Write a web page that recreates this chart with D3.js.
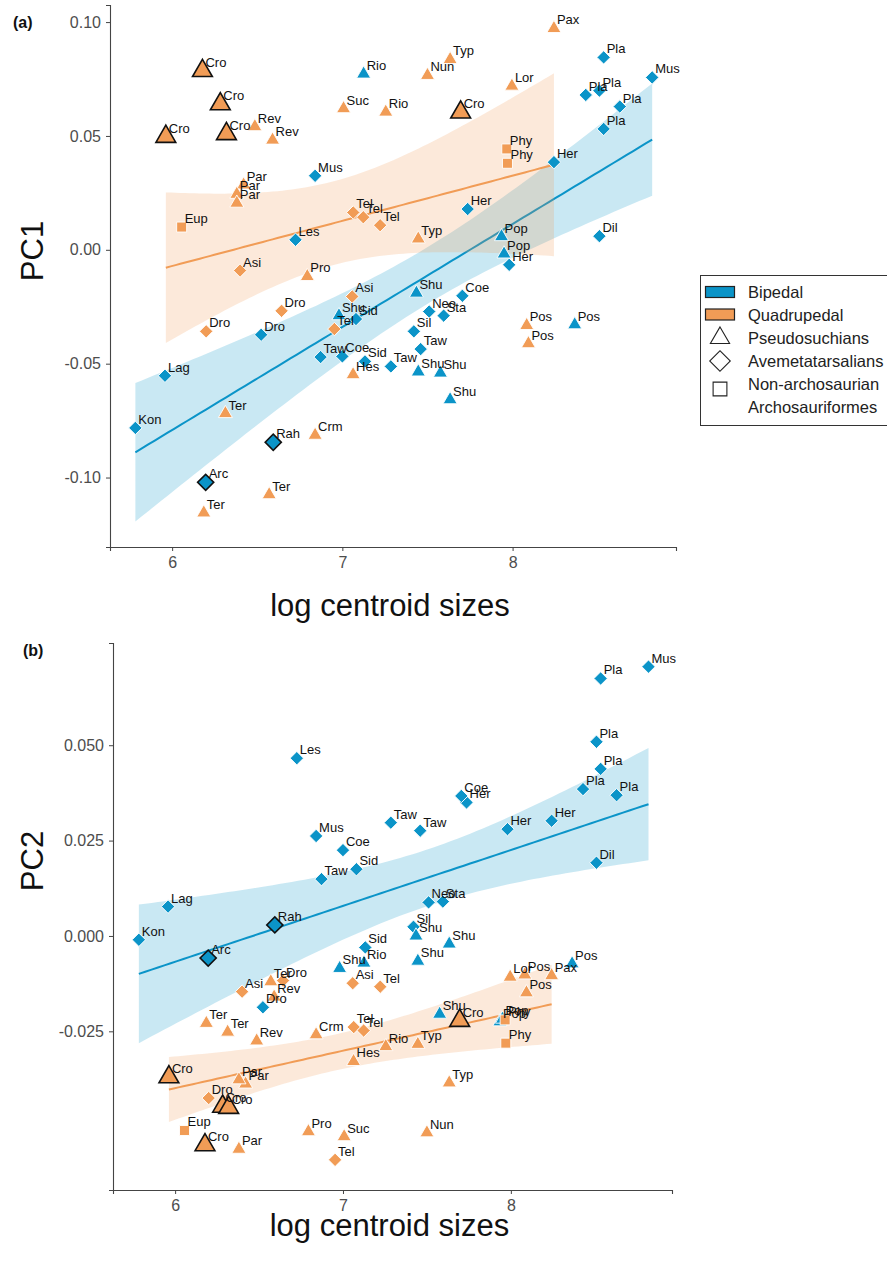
<!DOCTYPE html>
<html>
<head>
<meta charset="utf-8">
<script src="https://cdn.jsdelivr.net/npm/d3@7"></script>
<style>
  body { margin: 0; background: #fff; }
  text { font-family: "Liberation Sans", Arial, sans-serif; }
</style>
</head>
<body>
<script>
// ---- data ----
// B = bipedal, Q = quadrupedal ; P = Pseudosuchians, A = Avemetatarsalians, N = non-archosaurian Archosauriformes
var taxa = ["Pla","Pla","Pla","Pla","Pla","Mus","Her","Her","Her","Dil",
            "Mus","Les","Sid","Sid","Dro","Taw","Taw","Taw","Coe","Coe",
            "Lag","Kon","Rah","Arc","Neo","Sta","Sil",
            "Rio","Pop","Pop","Shu","Shu","Shu","Shu","Shu","Pos",
            "Cro","Cro","Cro","Cro","Cro","Rev","Rev","Suc","Rio","Nun",
            "Typ","Typ","Pax","Lor","Par","Par","Par","Pro","Hes","Ter",
            "Ter","Ter","Crm","Pos","Pos",
            "Tel","Tel","Tel","Tel","Asi","Asi","Dro","Dro",
            "Eup","Phy","Phy"];

var logSize = [8.43,8.51,8.535,8.535,8.63,8.82,7.736,7.98,8.243,8.51,
               6.84,6.725,7.08,7.133,6.523,6.872,7.285,7.46,7.0,7.705,
               5.958,5.784,6.594,6.197,7.51,7.595,7.42,
               7.125,7.935,7.95,6.98,7.435,7.446,7.576,7.633,8.365,
               5.963,6.178,6.283,6.319,7.695,6.486,6.59,7.007,7.255,7.5,
               7.633,7.446,8.243,7.996,6.42,6.38,6.38,6.794,7.063,6.186,
               6.313,6.57,6.84,8.083,8.093,
               7.064,7.123,7.222,6.953,6.399,7.058,6.643,6.2,
               6.056,7.966,7.97];

var pc1 = [0.0680,0.0699,0.0845,0.0531,0.0629,0.0757,0.0179,-0.0066,0.0385,0.0060,
           0.0325,0.0044,-0.0304,-0.0490,-0.0373,-0.0471,-0.0512,-0.0436,-0.0468,-0.0202,
           -0.0553,-0.0782,-0.0845,-0.1021,-0.0271,-0.0289,-0.0358,
           0.0772,0.0058,-0.0018,-0.0289,-0.0190,-0.0536,-0.0541,-0.0658,-0.0329,
           0.0497,0.0786,0.0640,0.0509,0.0604,0.0541,0.0482,0.0620,0.0605,0.0766,
           0.0836,0.0048,0.0972,0.0719,0.0285,0.0244,0.0205,-0.0117,-0.0548,-0.1155,
           -0.0719,-0.1075,-0.0814,-0.0332,-0.0412,
           0.0164,0.0143,0.0108,-0.0348,-0.0091,-0.0205,-0.0268,-0.0358,
           0.0100,0.0443,0.0380];

var pc2 = [0.0385,0.0509,0.0675,0.0438,0.0369,0.0706,0.0350,0.0280,0.0302,0.0192,
           0.0262,0.0466,0.0175,-0.0030,-0.0187,0.0149,0.0297,0.0276,0.0225,0.0367,
           0.0077,-0.0010,0.0029,-0.0058,0.0088,0.0090,0.0024,
           -0.0071,-0.0225,-0.0218,-0.0085,0.0000,-0.0066,-0.0205,-0.0021,-0.0073,
           -0.0370,-0.0548,-0.0447,-0.0450,-0.0222,-0.0275,-0.0160,-0.0526,-0.0290,-0.0516,
           -0.0385,-0.0284,-0.0104,-0.0108,-0.0388,-0.0377,-0.0559,-0.0513,-0.0329,-0.0229,
           -0.0252,-0.0120,-0.0259,-0.0102,-0.0149,
           -0.0239,-0.0248,-0.0133,-0.0587,-0.0146,-0.0124,-0.0117,-0.0425,
           -0.0510,-0.0220,-0.0281];

var locomotion = "BBBBBBBBBBBBBBBBBBBBBBBBBBBBBBBBBBBBQQQQQQQQQQQQQQQQQQQQQQQQQQQQQQQQQQQQ".split("");
var clade = "AAAAAAAAAAAAAAAAAAAAAAAAAAAPPPPPPPPPPPPPPPPPPPPPPPPPPPPPPPPPPAAAAAAAANNN".split("");
var outlined = ["Rah","Arc","Cro"];   // drawn larger with a black border

var xTicks = [6, 7, 8];
var pc1Ticks = [-0.10, -0.05, 0.00, 0.05, 0.10];
var pc2Ticks = [-0.025, 0.000, 0.025, 0.050];

var legendGroups = ["Bipedal", "Quadrupedal"];
var legendShapes = ["Pseudosuchians", "Avemetatarsalians", ["Non-archosaurian", "Archosauriformes"]];

// ---- style ----
var colors = {B: "#0b94c8", Q: "#f19c56"};
var tCrit = 2.032;   // t(0.975, df = 34)

var W = 887, H = 1264;
var svg = d3.select("body").append("svg")
            .attr("width", W)
            .attr("height", H);

var panels = [
  {values: pc1, left: 110, right: 676, top: 5, bottom: 547,
   xDomain: [5.635, 8.96], yDomain: [-0.1305, 0.1075], yTicks: pc1Ticks, digits: 2,
   title: "PC1", titleCY: 251, tag: "(a)", tagX: 13, tagY: 28, xTitleY: 616},
  {values: pc2, left: 113, right: 672, top: 643, bottom: 1190,
   xDomain: [5.63, 8.96], yDomain: [-0.0666, 0.0768], yTicks: pc2Ticks, digits: 3,
   title: "PC2", titleCY: 861, tag: "(b)", tagX: 23, tagY: 656, xTitleY: 1236}
];

function fitBand(xs, ys) {
  var n = xs.length, mx = d3.mean(xs), my = d3.mean(ys);
  var sxx = 0, sxy = 0, sse = 0;
  for (var i = 0; i < n; i++) {
    sxx += (xs[i] - mx) * (xs[i] - mx);
    sxy += (xs[i] - mx) * (ys[i] - my);
  }
  var b = sxy / sxx, a = my - b * mx;
  for (var i = 0; i < n; i++) {
    var r = ys[i] - (a + b * xs[i]);
    sse += r * r;
  }
  var s = Math.sqrt(sse / (n - 2));
  var ext = d3.extent(xs);
  return d3.range(81).map(function(k) {
    var x = ext[0] + (ext[1] - ext[0]) * k / 80;
    var yh = a + b * x;
    var se = s * Math.sqrt(1 / n + (x - mx) * (x - mx) / sxx);
    return {x: x, y: yh, lo: yh - tCrit * se, hi: yh + tCrit * se};
  });
}

function markerPath(cl, big) {
  if (cl === "P") return d3.symbol().type(d3.symbolTriangle).size(big ? 170 : 86)();
  if (cl === "A") return d3.symbol().type(d3.symbolSquare).size(big ? 130 : 90)();
  return d3.symbol().type(d3.symbolSquare).size(big ? 130 : 100)();
}

panels.forEach(function(p) {
  var x = d3.scaleLinear().domain(p.xDomain).range([p.left, p.right]);
  var y = d3.scaleLinear().domain(p.yDomain).range([p.bottom, p.top]);

  var g = svg.append("g");

  // confidence bands + fitted lines
  ["B", "Q"].forEach(function(grp) {
    var idx = d3.range(taxa.length).filter(function(i) { return locomotion[i] === grp; });
    var band = fitBand(idx.map(function(i) { return logSize[i]; }),
                       idx.map(function(i) { return p.values[i]; }));
    g.append("path")
     .datum(band)
     .attr("d", d3.area().x(function(d) { return x(d.x); })
                         .y0(function(d) { return y(d.lo); })
                         .y1(function(d) { return y(d.hi); }))
     .attr("fill", colors[grp])
     .attr("fill-opacity", 0.22);
    g.append("path")
     .datum(band)
     .attr("d", d3.line().x(function(d) { return x(d.x); })
                         .y(function(d) { return y(d.y); }))
     .attr("fill", "none")
     .attr("stroke", colors[grp])
     .attr("stroke-width", 2);
  });

  // points
  var order = d3.range(taxa.length).sort(function(a, b) {
    return (outlined.indexOf(taxa[a]) >= 0) - (outlined.indexOf(taxa[b]) >= 0);
  });
  g.selectAll("path.pt")
   .data(order)
   .enter()
   .append("path")
   .attr("class", "pt")
   .attr("d", function(i) { return markerPath(clade[i], outlined.indexOf(taxa[i]) >= 0); })
   .attr("transform", function(i) {
     return "translate(" + x(logSize[i]) + "," + y(p.values[i]) + ")" +
            (clade[i] === "A" ? " rotate(45)" : "");
   })
   .attr("fill", function(i) { return colors[locomotion[i]]; })
   .attr("stroke", function(i) { return outlined.indexOf(taxa[i]) >= 0 ? "#111" : "#fff"; })
   .attr("stroke-width", function(i) { return outlined.indexOf(taxa[i]) >= 0 ? 1.6 : 0.9; });

  // labels
  g.selectAll("text.lab")
   .data(d3.range(taxa.length))
   .enter()
   .append("text")
   .attr("class", "lab")
   .attr("x", function(i) { return x(logSize[i]) + 3; })
   .attr("y", function(i) { return y(p.values[i]) - 4; })
   .attr("font-size", 13)
   .attr("fill", "#111")
   .text(function(i) { return taxa[i]; });

  // axes
  var xAxis = svg.append("g")
     .attr("transform", "translate(0," + p.bottom + ")")
     .call(d3.axisBottom(x).tickValues(xTicks).tickSizeOuter(0).tickSize(4).tickPadding(6)
             .tickFormat(d3.format("d")));
  var yAxis = svg.append("g")
     .attr("transform", "translate(" + p.left + ",0)")
     .call(d3.axisLeft(y).tickValues(p.yTicks).tickSizeOuter(0).tickSize(4).tickPadding(5)
             .tickFormat(function(d) { return d.toFixed(p.digits); }));
  [xAxis, yAxis].forEach(function(ax) {
    ax.select(".domain").attr("stroke", "#444").attr("stroke-width", 1.1);
    ax.selectAll(".tick line").attr("stroke", "#444");
    ax.selectAll(".tick text").attr("fill", "#4d4d4d").attr("font-size", 16)
      .attr("font-family", "Liberation Sans, Arial, sans-serif");
  });

  // titles
  svg.append("text")
     .attr("x", (p.left + p.right) / 2 - 3)
     .attr("y", p.xTitleY)
     .attr("text-anchor", "middle")
     .attr("font-family", "Lato, sans-serif")
     .attr("font-size", 31)
     .attr("fill", "#111")
     .text("log centroid sizes");
  svg.append("text")
     .attr("transform", "translate(43," + p.titleCY + ") rotate(-90)")
     .attr("text-anchor", "middle")
     .attr("font-family", "Lato, sans-serif")
     .attr("font-size", 31)
     .attr("fill", "#111")
     .text(p.title);
  svg.append("text")
     .attr("x", p.tagX)
     .attr("y", p.tagY)
     .attr("font-weight", "bold")
     .attr("font-size", 16)
     .attr("fill", "#111")
     .text(p.tag);
});

// ---- legend ----
var lg = svg.append("g");
lg.append("rect")
  .attr("x", 700.5).attr("y", 275.5)
  .attr("width", 200).attr("height", 150)
  .attr("fill", "#fff").attr("stroke", "#333").attr("stroke-width", 1);

legendGroups.forEach(function(name, i) {
  var cy = 292 + i * 22.5;
  lg.append("rect")
    .attr("x", 705.5).attr("y", cy - 5.5)
    .attr("width", 29).attr("height", 11)
    .attr("fill", colors[i === 0 ? "B" : "Q"])
    .attr("stroke", "#222").attr("stroke-width", 1.2);
  lg.append("text")
    .attr("x", 748).attr("y", cy + 6)
    .attr("font-family", "Lato, sans-serif").attr("font-size", 16.5)
    .attr("fill", "#222")
    .text(name);
});

var shapeKeys = ["P", "A", "N"];
legendShapes.forEach(function(name, i) {
  var cy = 338 + i * 23;
  var sym = shapeKeys[i] === "P" ? d3.symbol().type(d3.symbolTriangle).size(160)()
          : shapeKeys[i] === "A" ? d3.symbol().type(d3.symbolSquare).size(210)()
          : d3.symbol().type(d3.symbolSquare).size(190)();
  lg.append("path")
    .attr("d", sym)
    .attr("transform", "translate(720," + (shapeKeys[i] === "N" ? cy + 5 : cy) + ")" +
                       (shapeKeys[i] === "A" ? " rotate(45)" : ""))
    .attr("fill", "none").attr("stroke", "#222").attr("stroke-width", 1.1);
  var lines = Array.isArray(name) ? name : [name];
  lines.forEach(function(t, j) {
    lg.append("text")
      .attr("x", 748).attr("y", cy + 6 + j * 22.5)
      .attr("font-family", "Lato, sans-serif").attr("font-size", 16.5)
      .attr("fill", "#222")
      .text(t);
  });
});
</script>
</body>
</html>
